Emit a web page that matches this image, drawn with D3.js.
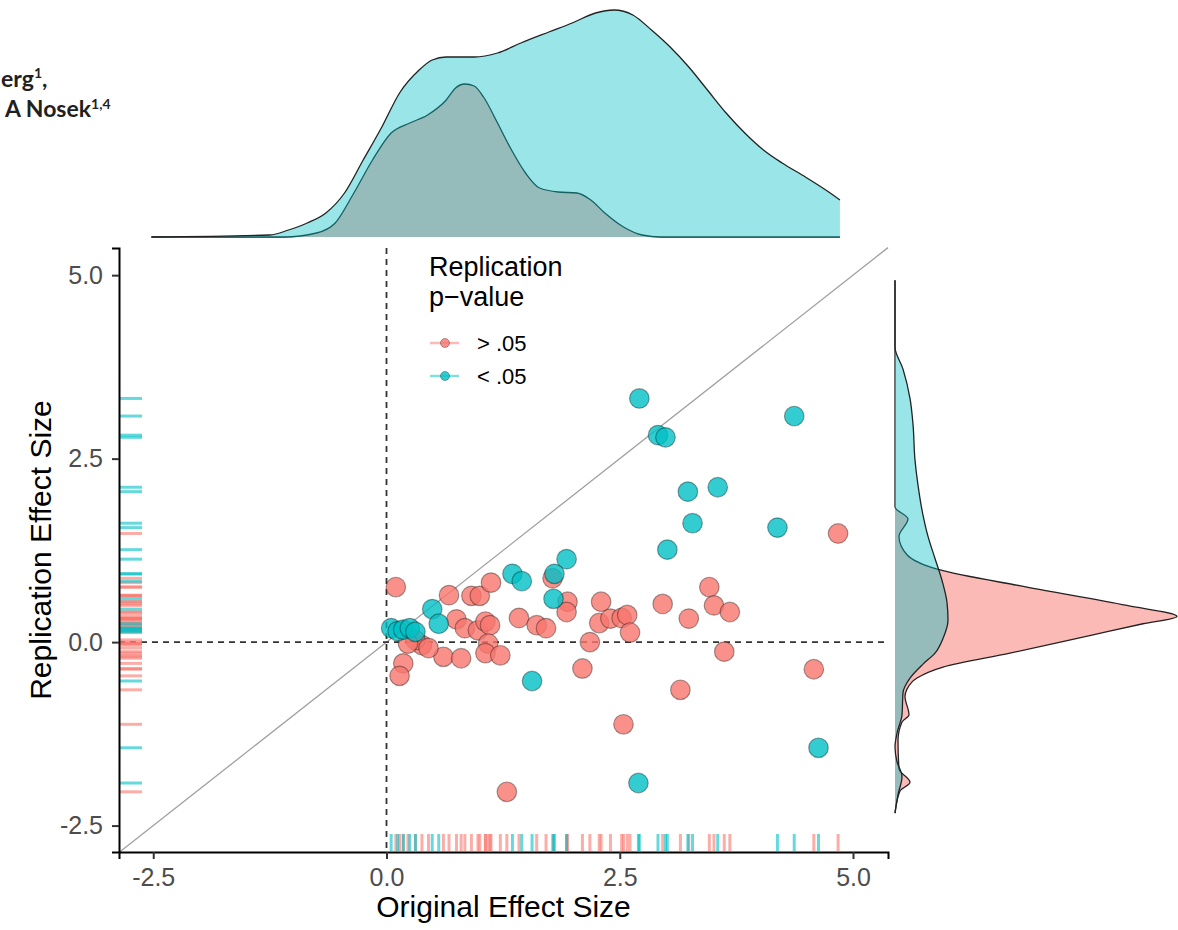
<!DOCTYPE html>
<html>
<head>
<meta charset="utf-8">
<title>Original vs Replication Effect Size</title>
<script src="https://cdn.jsdelivr.net/npm/d3@7"></script>
<style>
  body { margin: 0; background: #fff; }
  text { font-family: "Liberation Sans", Arial, sans-serif; }
</style>
</head>
<body>
<svg width="1178" height="930" id="mainsvg"></svg>
<script>
  // scatter points (original effect, replication effect)
  const redX  = [4.84, 0.10, 0.67, 0.91, 1.00, 1.12, 1.78, 1.94, 1.93, 2.30, 2.96, 3.46, 3.51, 3.68, 3.24, 2.28,
                 2.40, 2.52, 2.58, 2.61, 2.18, 1.42, 1.61, 1.71, 0.75, 0.84, 0.98, 1.06, 1.11, 1.09, 1.06, 1.22,
                 0.61, 0.80, 0.38, 0.31, 0.23, 0.45, 0.18, 0.14, 2.10, 3.62, 4.58, 3.15, 2.54, 1.29];
  const redY  = [1.48, 0.75, 0.64, 0.63, 0.63, 0.81, 0.87, 0.55, 0.41, 0.55, 0.52, 0.75, 0.50, 0.41, 0.32, 0.26,
                 0.32, 0.33, 0.37, 0.13, 0.00, 0.33, 0.23, 0.19, 0.31, 0.19, 0.16, 0.28, 0.23, -0.02, -0.15, -0.18,
                 -0.20, -0.22, -0.04, 0.03, -0.02, -0.08, -0.29, -0.46, -0.36, -0.13, -0.37, -0.65, -1.12, -2.04];
  const tealX = [2.71, 4.37, 2.91, 2.99, 3.23, 3.55, 3.28, 4.19, 3.01, 1.93, 1.35, 1.45, 1.80, 1.79, 1.56, 4.63,
                 2.70, 0.49, 0.56, 0.05, 0.12, 0.18, 0.25, 0.31];
  const tealY = [3.32, 3.08, 2.82, 2.79, 2.05, 2.11, 1.62, 1.56, 1.26, 1.13, 0.93, 0.83, 0.93, 0.59, -0.53, -1.44,
                 -1.92, 0.45, 0.25, 0.19, 0.15, 0.17, 0.19, 0.14];

  // marginal density of original effect size (top)
  const topTealX = [-2.52, -1.25, -1.05, -0.85, -0.65, -0.45, -0.25, -0.05, 0.14, 0.35, 0.49, 0.64, 0.94, 1.19, 1.44,
                    1.74, 1.99, 2.24, 2.44, 2.64, 2.84, 3.04, 3.24, 3.44, 3.64, 3.84, 4.04, 4.24, 4.49, 4.74, 4.86];
  const topTealD = [0, 0.02, 0.07, 0.14, 0.24, 0.44, 0.77, 1.10, 1.44, 1.67, 1.77, 1.80, 1.80, 1.84, 1.94,
                    2.05, 2.14, 2.24, 2.27, 2.22, 2.07, 1.90, 1.70, 1.47, 1.24, 1.04, 0.87, 0.74, 0.60, 0.45, 0.37];
  const topRedX  = [-2.52, -1.10, -0.75, -0.55, -0.35, -0.15, 0.05, 0.25, 0.44, 0.64, 0.74, 0.84, 0.94, 1.04, 1.19,
                    1.34, 1.49, 1.64, 1.84, 2.04, 2.19, 2.34, 2.54, 2.74, 2.94, 4.86];
  const topRedD  = [0, 0, 0.04, 0.14, 0.44, 0.77, 1.04, 1.14, 1.22, 1.37, 1.49, 1.53, 1.51, 1.40, 1.14,
                    0.87, 0.64, 0.49, 0.45, 0.44, 0.37, 0.24, 0.10, 0.02, 0, 0];

  // marginal density of replication effect size (right)
  const rightTealY = [4.93, 4.02, 3.72, 3.32, 2.97, 2.48, 2.14, 1.73, 1.44, 1.14, 0.84, 0.54, 0.30, 0.05, -0.15,
                      -0.30, -0.49, -0.69, -0.99, -1.24, -1.43, -1.63, -1.83, -2.08, -2.33];
  const rightTealD = [0, 0, 0.08, 0.15, 0.18, 0.20, 0.23, 0.28, 0.33, 0.40, 0.47, 0.52, 0.53, 0.48, 0.40,
                      0.28, 0.15, 0.08, 0.07, 0.02, 0, 0.02, 0.07, 0.03, 0];
  const rightRedY  = [4.93, 1.84, 1.68, 1.44, 1.19, 0.99, 0.75, 0.50, 0.35, 0.25, 0.10, -0.15, -0.34, -0.49, -0.64,
                      -0.74, -0.99, -1.09, -1.34, -1.73, -1.91, -2.03, -2.33];
  const rightRedD  = [0, 0, 0.13, 0.04, 0.12, 0.43, 1.32, 2.32, 2.82, 2.48, 1.98, 1.15, 0.48, 0.22, 0.12,
                      0.10, 0.14, 0.07, 0.03, 0.04, 0.15, 0.05, 0];

  const tickValues = [-2.5, 0, 2.5, 5];
  const legendLabels = ['> .05', '< .05'];

  const red = '#F8766D', teal = '#00BFC4';

  const svg = d3.select('#mainsvg');
  const xScale = d3.scaleLinear().domain([-2.867, 5.375]).range([119, 888]);
  const yScale = d3.scaleLinear().domain([-2.86, 5.37]).range([852, 248]);
  const topBase = 237, rightBase = 895, densPx = 100;

  // cropped header text from the paper
  const head = svg.append('g').attr('font-weight', 'bold').attr('fill', '#231f20').attr('font-size', 23);
  const h1 = head.append('text').attr('x', 1).attr('y', 87).style('font-family', 'Lato, sans-serif');
  h1.append('tspan').text('erg');
  h1.append('tspan').attr('dy', -9).attr('font-size', 14).text('1');
  h1.append('tspan').attr('dy', 9).text(',');
  const h2 = head.append('text').attr('x', 5).attr('y', 117).style('font-family', 'Lato, sans-serif');
  h2.append('tspan').text('A Nosek');
  h2.append('tspan').attr('dy', -8).attr('font-size', 14).text('1,4');

  // top density
  const topArea = (xs, ds) => d3.area().curve(d3.curveMonotoneX)
    .x((d, i) => xScale(xs[i])).y0(topBase).y1((d, i) => topBase - ds[i] * densPx)(xs);
  const topLine = (xs, ds) => d3.line().curve(d3.curveMonotoneX)
    .x((d, i) => xScale(xs[i])).y((d, i) => topBase - ds[i] * densPx)(xs);
  svg.append('path').attr('d', topArea(topRedX, topRedD)).attr('fill', red).attr('fill-opacity', 0.5);
  svg.append('path').attr('d', topLine(topRedX, topRedD)).attr('fill', 'none').attr('stroke', '#222').attr('stroke-width', 1.3);
  svg.append('path').attr('d', topArea(topTealX, topTealD)).attr('fill', teal).attr('fill-opacity', 0.4);
  svg.append('path').attr('d', topLine(topTealX, topTealD)).attr('fill', 'none').attr('stroke', '#222').attr('stroke-width', 1.3);

  // right density
  const rightArea = (ys, ds) => d3.area().curve(d3.curveMonotoneY)
    .y((d, i) => yScale(ys[i])).x0(rightBase).x1((d, i) => rightBase + ds[i] * densPx)(ys);
  const rightLine = (ys, ds) => d3.line().curve(d3.curveMonotoneY)
    .y((d, i) => yScale(ys[i])).x((d, i) => rightBase + ds[i] * densPx)(ys);
  svg.append('path').attr('d', rightArea(rightRedY, rightRedD)).attr('fill', red).attr('fill-opacity', 0.5);
  svg.append('path').attr('d', rightLine(rightRedY, rightRedD)).attr('fill', 'none').attr('stroke', '#222').attr('stroke-width', 1.3);
  svg.append('path').attr('d', rightArea(rightTealY, rightTealD)).attr('fill', teal).attr('fill-opacity', 0.4);
  svg.append('path').attr('d', rightLine(rightTealY, rightTealD)).attr('fill', 'none').attr('stroke', '#222').attr('stroke-width', 1.3);

  // reference lines
  const [x0, x1] = xScale.domain();
  svg.append('line')
    .attr('x1', xScale(x0)).attr('y1', yScale(x0)).attr('x2', xScale(x1)).attr('y2', yScale(x1))
    .attr('stroke', '#a0a0a0').attr('stroke-width', 1.3);
  svg.append('line')
    .attr('x1', xScale(0)).attr('x2', xScale(0)).attr('y1', yScale.range()[1]).attr('y2', yScale.range()[0])
    .attr('stroke', '#333').attr('stroke-width', 1.8).attr('stroke-dasharray', '6,5');
  svg.append('line')
    .attr('x1', xScale.range()[0]).attr('x2', xScale.range()[1]).attr('y1', yScale(0)).attr('y2', yScale(0))
    .attr('stroke', '#333').attr('stroke-width', 1.8).attr('stroke-dasharray', '6,5');

  // rugs
  const rugLen = 23, rugLenX = 18;
  const groups = [
    { xs: redX, ys: redY, color: red },
    { xs: tealX, ys: tealY, color: teal }
  ];
  groups.forEach(gp => {
    svg.append('g').selectAll('line').data(gp.ys).join('line')
      .attr('x1', xScale.range()[0] + 1).attr('x2', xScale.range()[0] + rugLen)
      .attr('y1', d => yScale(d)).attr('y2', d => yScale(d))
      .attr('stroke', gp.color).attr('stroke-width', 3).attr('stroke-opacity', 0.6);
    svg.append('g').selectAll('line').data(gp.xs).join('line')
      .attr('y1', yScale.range()[0] - 1).attr('y2', yScale.range()[0] - rugLenX)
      .attr('x1', d => xScale(d)).attr('x2', d => xScale(d))
      .attr('stroke', gp.color).attr('stroke-width', 3).attr('stroke-opacity', 0.6);
  });

  // points
  groups.forEach(gp => {
    svg.append('g').selectAll('circle').data(gp.xs).join('circle')
      .attr('cx', d => xScale(d)).attr('cy', (d, i) => yScale(gp.ys[i])).attr('r', 9.8)
      .attr('fill', gp.color).attr('fill-opacity', 0.8)
      .attr('stroke', '#000').attr('stroke-opacity', 0.35).attr('stroke-width', 1.2);
  });

  // axes
  const fmt = d => d.toFixed(1);
  const xAxis = svg.append('g').attr('transform', `translate(0, ${yScale.range()[0]})`)
    .call(d3.axisBottom(xScale).tickValues(tickValues).tickFormat(fmt).tickSizeOuter(0).tickSize(7).tickPadding(9));
  const yAxis = svg.append('g').attr('transform', `translate(${xScale.range()[0]}, 0)`)
    .call(d3.axisLeft(yScale).tickValues(tickValues).tickFormat(fmt).tickSizeOuter(0).tickSize(7).tickPadding(9));
  [xAxis, yAxis].forEach(ax => {
    ax.select('.domain').attr('stroke', '#000').attr('stroke-width', 2);
    ax.selectAll('.tick line').attr('stroke', '#333').attr('stroke-width', 2);
    ax.selectAll('.tick text').attr('fill', '#4d4d4d').attr('font-size', 25)
      .attr('font-family', '"Liberation Sans", Arial, sans-serif');
  });

  svg.append('text').attr('x', (xScale.range()[0] + xScale.range()[1]) / 2).attr('y', 917)
    .attr('text-anchor', 'middle').attr('font-size', 30).attr('fill', '#000').text('Original Effect Size');
  svg.append('text')
    .attr('transform', `translate(51, ${(yScale.range()[0] + yScale.range()[1]) / 2}) rotate(-90)`)
    .attr('text-anchor', 'middle').attr('font-size', 30).attr('fill', '#000').text('Replication Effect Size');

  // legend
  const legend = svg.append('g').attr('transform', 'translate(429, 0)');
  legend.append('text').attr('x', 0).attr('y', 276).attr('font-size', 27).text('Replication');
  legend.append('text').attr('x', 0).attr('y', 306).attr('font-size', 27).text('p\u2212value');
  [red, teal].forEach((c, i) => {
    const ky = 343 + i * 33;
    legend.append('line').attr('x1', 1).attr('x2', 30).attr('y1', ky).attr('y2', ky)
      .attr('stroke', c).attr('stroke-width', 2.5).attr('stroke-opacity', 0.5);
    legend.append('circle').attr('cx', 16).attr('cy', ky).attr('r', 4.5)
      .attr('fill', c).attr('fill-opacity', 0.8).attr('stroke', '#000').attr('stroke-opacity', 0.3);
    legend.append('text').attr('x', 48).attr('y', ky + 8).attr('font-size', 22).text(legendLabels[i]);
  });
</script>
</body>
</html>
